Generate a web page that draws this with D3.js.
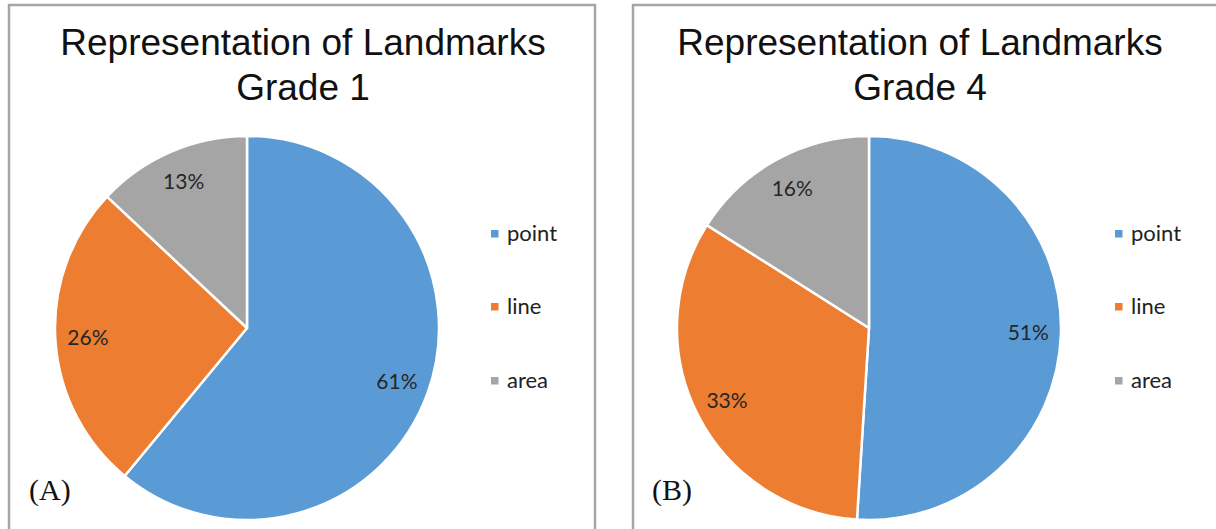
<!DOCTYPE html>
<html>
<head>
<meta charset="utf-8">
<script src="https://cdn.jsdelivr.net/npm/d3@7"></script>
<style>
  html, body { margin: 0; padding: 0; background: #ffffff; }
  svg { display: block; }
</style>
</head>
<body>
<svg id="chart" width="1216" height="529"></svg>
<script>
// Landmark representation shares by grade
const categories = ["point", "line", "area"];
const grade1Values = [61, 26, 13];
const grade4Values = [51, 33, 16];
const panelTitles = ["Representation of Landmarks", "Representation of Landmarks"];
const panelSubtitles = ["Grade 1", "Grade 4"];
const panelTags = ["(A)", "(B)"];
const sliceColors = ["#5B9BD5", "#ED7D31", "#A5A5A5"];

const svg = d3.select("#chart");

const color = d3.scaleOrdinal().domain(categories).range(sliceColors);

const panels = [
  { values: grade1Values, title: panelTitles[0], sub: panelSubtitles[0], tag: panelTags[0],
    x0: 9, x1: 595, cx: 247, cy: 328, titleX: 303, legendX: 491, tagX: 29 },
  { values: grade4Values, title: panelTitles[1], sub: panelSubtitles[1], tag: panelTags[1],
    x0: 633, x1: 1240, cx: 869, cy: 328, titleX: 920, legendX: 1115, tagX: 652 }
];

const radius = 192;
const pie = d3.pie().sort(null).value(d => d.value);
const arc = d3.arc().innerRadius(0).outerRadius(radius);
const labelArc = d3.arc().innerRadius(radius * 0.83).outerRadius(radius * 0.83);
const legendRows = [234, 307, 381];

panels.forEach(p => {
  const g = svg.append("g");

  // chart frame
  g.append("rect")
    .attr("x", p.x0).attr("y", 5)
    .attr("width", p.x1 - p.x0).attr("height", 560)
    .attr("fill", "#ffffff")
    .attr("stroke", "#a6a6a6")
    .attr("stroke-width", 2.5);

  // title
  g.append("text")
    .attr("x", p.titleX).attr("y", 55)
    .attr("text-anchor", "middle")
    .attr("font-family", "Liberation Sans, Arial, sans-serif")
    .attr("font-size", 37)
    .attr("fill", "#111111")
    .text(p.title);
  g.append("text")
    .attr("x", p.titleX).attr("y", 100)
    .attr("text-anchor", "middle")
    .attr("font-family", "Liberation Sans, Arial, sans-serif")
    .attr("font-size", 37)
    .attr("fill", "#111111")
    .text(p.sub);

  const data = categories.map((c, i) => ({ key: c, value: p.values[i] }));
  const arcs = pie(data);

  const pg = g.append("g").attr("transform", `translate(${p.cx},${p.cy})`);
  pg.selectAll("path")
    .data(arcs)
    .join("path")
    .attr("d", arc)
    .attr("fill", d => color(d.data.key))
    .attr("stroke", "#ffffff")
    .attr("stroke-width", 2.5)
    .attr("stroke-linejoin", "round");

  pg.selectAll("text.lbl")
    .data(arcs)
    .join("text")
    .attr("class", "lbl")
    .attr("transform", d => `translate(${labelArc.centroid(d)})`)
    .attr("text-anchor", "middle")
    .attr("dy", "0.35em")
    .attr("font-family", "Lato, sans-serif")
    .attr("font-size", 21)
    .attr("fill", "#262626")
    .text(d => d.data.value + "%");

  // legend
  const lg = g.append("g");
  categories.forEach((c, i) => {
    lg.append("rect")
      .attr("x", p.legendX).attr("y", legendRows[i] - 4)
      .attr("width", 7.5).attr("height", 7.5)
      .attr("fill", color(c));
    lg.append("text")
      .attr("x", p.legendX + 16).attr("y", legendRows[i] + 7)
      .attr("font-family", "Lato, sans-serif")
      .attr("font-size", 22)
      .attr("fill", "#222222")
      .text(c);
  });

  // panel tag
  g.append("text")
    .attr("x", p.tagX).attr("y", 500)
    .attr("font-family", "Liberation Serif, serif")
    .attr("font-size", 30)
    .attr("fill", "#111111")
    .text(p.tag);
});
</script>
</body>
</html>
